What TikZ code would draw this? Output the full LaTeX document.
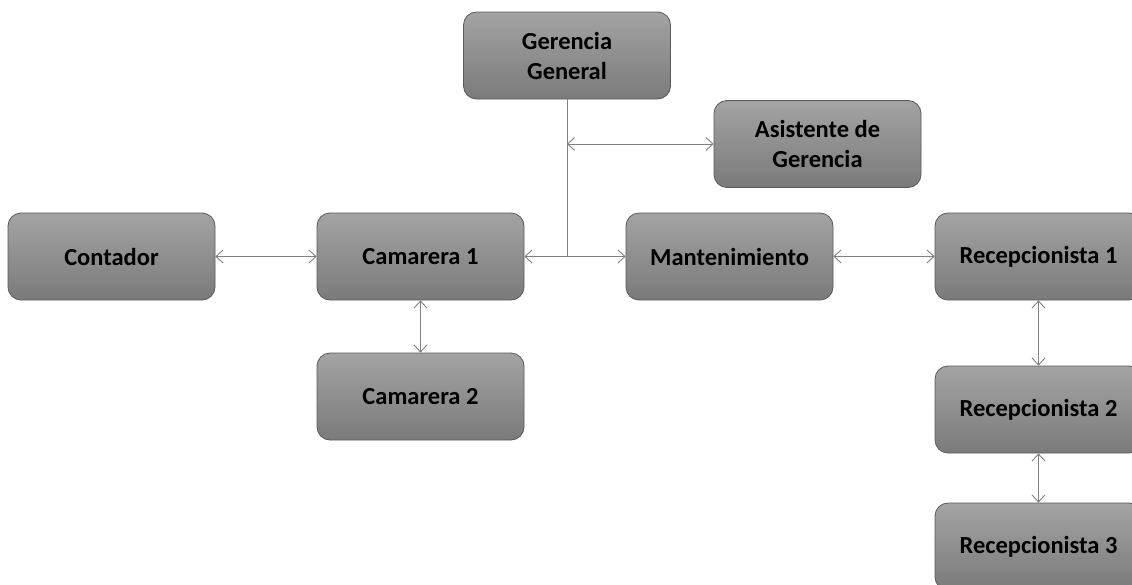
\documentclass[tikz,border=0pt]{standalone}
\usepackage{fontspec}
\setmainfont{Carlito}[BoldFont=* Bold]
\usetikzlibrary{arrows.meta}
\tikzset{
  box/.style={draw=black!65, line width=0.8pt, rounded corners=13pt, top color=black!36, bottom color=black!52,
    minimum width=207pt, minimum height=87pt, inner sep=0pt, align=center,
    font=\fontsize{24.5}{30}\selectfont\bfseries, text=black},
  conn/.style={draw=black!50, line width=0.9pt},
  biarrow/.style={conn, {Straight Barb[length=7pt,width=13pt]}-{Straight Barb[length=7pt,width=13pt]}}
}
\begin{document}
\begin{tikzpicture}[x=1pt,y=-1pt]
\useasboundingbox (0,0) rectangle (1132,584);
\clip (0,0) rectangle (1132,584);
\fill[white] (0,0) rectangle (1132,584);
\node[box] (gg) at (567,55.5) {Gerencia\\General};
\node[box] (ag) at (817.5,144) {Asistente de\\Gerencia};
\node[box] (cont) at (111.5,256.5) {Contador};
\node[box] (cam1) at (420.5,256.5) {Camarera 1};
\node[box] (mant) at (729.5,256.5) {Mantenimiento};
\node[box] (rec1) at (1038.5,256.5) {Recepcionista 1};
\node[box] (cam2) at (420.5,396.5) {Camarera 2};
\node[box] (rec2) at (1038.5,409.5) {Recepcionista 2};
\node[box] (rec3) at (1038.5,546.5) {Recepcionista 3};
\coordinate (j) at (gg.south |- cam1.east);
\coordinate (ja) at (gg.south |- ag.west);
\draw[conn] (gg.south) -- (j);
\draw[biarrow] (cam1.east) -- (mant.west);
\draw[biarrow] (ja) -- (ag.west);
\draw[biarrow] (cont.east) -- (cam1.west);
\draw[biarrow] (mant.east) -- (rec1.west);
\draw[biarrow] (cam1.south) -- (cam2.north);
\draw[biarrow] (rec1.south) -- (rec2.north);
\draw[biarrow] (rec2.south) -- (rec3.north);
\end{tikzpicture}
\end{document}
